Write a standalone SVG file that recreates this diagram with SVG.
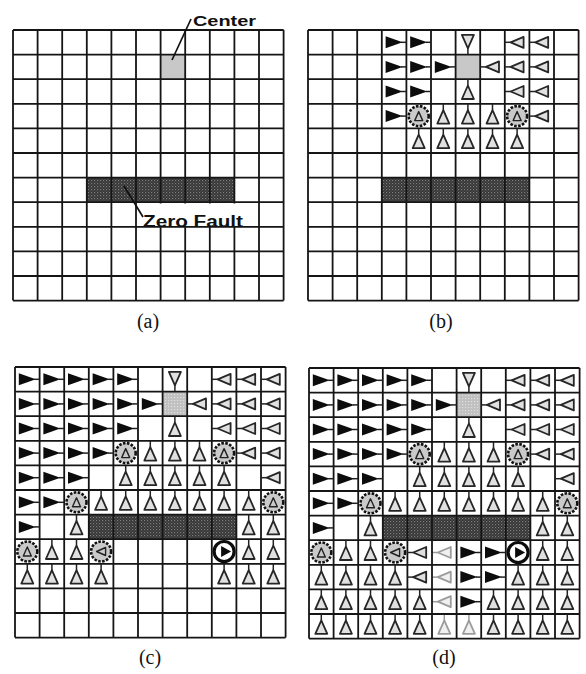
<svg xmlns="http://www.w3.org/2000/svg" width="586" height="674" viewBox="0 0 586 674">
<style>
.grid{fill:none;stroke:#151515;stroke-width:1.8}
.stem{fill:none;stroke:#222;stroke-width:1.5}
.o{fill:#e0e0e0;stroke:#262626;stroke-width:1.8;stroke-linejoin:round}
.o2{fill:none;stroke:#222;stroke-width:1.4;stroke-linejoin:round}
.ring{fill:#cacaca;stroke:#121212;stroke-width:2.6;stroke-dasharray:2.6 1.4}
.blk{fill:#0c0c0c}
.lt{opacity:0.45}
.cap{font-family:"Liberation Serif","Times New Roman",serif;font-size:20px;fill:#111;text-anchor:middle}
.lbl{font-family:"Liberation Sans",Arial,sans-serif;font-weight:bold;fill:#111}
.lead{fill:none;stroke:#111;stroke-width:1.7}
</style>
<defs>
<pattern id="pf" width="3" height="3" patternUnits="userSpaceOnUse">
<rect width="3" height="3" fill="#333"/><rect width="1.2" height="1.2" fill="#808080"/><rect x="1.5" y="1.5" width="1.2" height="1.2" fill="#5e5e5e"/>
</pattern>
<pattern id="pc" width="3" height="3" patternUnits="userSpaceOnUse">
<rect width="3" height="3" fill="#c0c0c0"/><rect width="1.2" height="1.2" fill="#e0e0e0"/>
</pattern>
<path id="gridlines" class="grid" d="M0 0V270.6M24.6 0V270.6M49.2 0V270.6M73.8 0V270.6M98.4 0V270.6M123 0V270.6M147.6 0V270.6M172.2 0V270.6M196.8 0V270.6M221.4 0V270.6M246 0V270.6M270.6 0V270.6M0 0H270.6M0 24.6H270.6M0 49.2H270.6M0 73.8H270.6M0 98.4H270.6M0 123H270.6M0 147.6H270.6M0 172.2H270.6M0 196.8H270.6M0 221.4H270.6M0 246H270.6M0 270.6H270.6"/>
<g id="R"><path class="stem" d="M7 0H12.3"/><path class="blk" d="M-8.5 -6L8.5 0L-8.5 6Z"/></g>
<g id="L"><path class="stem" d="M-6.5 0H-12.3"/><path class="o" d="M6.5 -5.5L-6.5 0L6.5 5.5Z"/></g>
<g id="U"><path class="stem" d="M0 -6V-12.3"/><path class="o" d="M-6 7.5L0 -6L6 7.5Z"/></g>
<g id="D"><path class="stem" d="M0 6V12.3"/><path class="o" d="M-6 -7.5L6 -7.5L0 6Z"/></g>
<g id="CU"><circle class="ring" r="10"/><path class="o2" d="M-4 4.5L0 -4.5L4 4.5Z"/></g>
<g id="CL"><circle class="ring" r="10"/><path class="o2" d="M4.5 -4L-4.5 0L4.5 4Z"/></g>
<g id="CR"><circle r="10" fill="#fff" stroke="#0c0c0c" stroke-width="3.2"/><path class="blk" d="M-3 -5.5L7 0L-3 5.5Z"/></g>
<g id="topRows">
<use href="#R" x="12.3" y="12.3"/><use href="#R" x="36.9" y="12.3"/><use href="#R" x="61.5" y="12.3"/><use href="#R" x="86.1" y="12.3"/><use href="#R" x="110.7" y="12.3"/>
<use href="#D" x="159.9" y="12.3"/>
<use href="#L" x="209.1" y="12.3"/><use href="#L" x="233.7" y="12.3"/><use href="#L" x="258.3" y="12.3"/>
<use href="#R" x="12.3" y="36.9"/><use href="#R" x="36.9" y="36.9"/><use href="#R" x="61.5" y="36.9"/><use href="#R" x="86.1" y="36.9"/><use href="#R" x="110.7" y="36.9"/><use href="#R" x="135.3" y="36.9"/>
<use href="#L" x="184.5" y="36.9"/><use href="#L" x="209.1" y="36.9"/><use href="#L" x="233.7" y="36.9"/><use href="#L" x="258.3" y="36.9"/>
<use href="#R" x="12.3" y="61.5"/><use href="#R" x="36.9" y="61.5"/><use href="#R" x="61.5" y="61.5"/><use href="#R" x="86.1" y="61.5"/><use href="#R" x="110.7" y="61.5"/>
<use href="#U" x="159.9" y="61.5"/>
<use href="#L" x="209.1" y="61.5"/><use href="#L" x="233.7" y="61.5"/><use href="#L" x="258.3" y="61.5"/>
<use href="#R" x="12.3" y="86.1"/><use href="#R" x="36.9" y="86.1"/><use href="#R" x="61.5" y="86.1"/><use href="#R" x="86.1" y="86.1"/>
<use href="#CU" x="110.7" y="86.1"/><use href="#U" x="135.3" y="86.1"/><use href="#U" x="159.9" y="86.1"/><use href="#U" x="184.5" y="86.1"/><use href="#CU" x="209.1" y="86.1"/>
<use href="#L" x="233.7" y="86.1"/><use href="#L" x="258.3" y="86.1"/>
<use href="#R" x="12.3" y="110.7"/><use href="#R" x="36.9" y="110.7"/><use href="#R" x="61.5" y="110.7"/>
<use href="#U" x="110.7" y="110.7"/><use href="#U" x="135.3" y="110.7"/><use href="#U" x="159.9" y="110.7"/><use href="#U" x="184.5" y="110.7"/><use href="#U" x="209.1" y="110.7"/>
<use href="#L" x="258.3" y="110.7"/>
<use href="#R" x="12.3" y="135.3"/><use href="#R" x="36.9" y="135.3"/><use href="#CU" x="61.5" y="135.3"/>
<use href="#U" x="86.1" y="135.3"/><use href="#U" x="110.7" y="135.3"/><use href="#U" x="135.3" y="135.3"/><use href="#U" x="159.9" y="135.3"/><use href="#U" x="184.5" y="135.3"/><use href="#U" x="209.1" y="135.3"/><use href="#U" x="233.7" y="135.3"/>
<use href="#CU" x="258.3" y="135.3"/>
<use href="#R" x="12.3" y="159.9"/><use href="#U" x="61.5" y="159.9"/><use href="#U" x="233.7" y="159.9"/><use href="#U" x="258.3" y="159.9"/>
</g>
</defs>
<rect width="586" height="674" fill="#fff"/>

<g id="panel-a" transform="translate(13,30)">
<rect x="147.6" y="24.6" width="24.6" height="24.6" fill="#c8c8c8"/>
<rect x="73.8" y="147.6" width="147.6" height="24.6" fill="url(#pf)"/>
<use href="#gridlines"/>
</g>

<g id="panel-b" transform="translate(308,30)">
<rect x="147.6" y="24.6" width="24.6" height="24.6" fill="#c8c8c8"/>
<rect x="73.8" y="147.6" width="147.6" height="24.6" fill="url(#pf)"/>
<use href="#gridlines"/>
<use href="#R" x="86.1" y="12.3"/><use href="#R" x="110.7" y="12.3"/>
<use href="#D" x="159.9" y="12.3"/>
<use href="#L" x="209.1" y="12.3"/><use href="#L" x="233.7" y="12.3"/>
<use href="#R" x="86.1" y="36.9"/><use href="#R" x="110.7" y="36.9"/><use href="#R" x="135.3" y="36.9"/>
<use href="#L" x="184.5" y="36.9"/><use href="#L" x="209.1" y="36.9"/><use href="#L" x="233.7" y="36.9"/>
<use href="#R" x="86.1" y="61.5"/><use href="#R" x="110.7" y="61.5"/>
<use href="#U" x="159.9" y="61.5"/>
<use href="#L" x="209.1" y="61.5"/><use href="#L" x="233.7" y="61.5"/>
<use href="#R" x="86.1" y="86.1"/><use href="#CU" x="110.7" y="86.1"/>
<use href="#U" x="135.3" y="86.1"/><use href="#U" x="159.9" y="86.1"/><use href="#U" x="184.5" y="86.1"/>
<use href="#CU" x="209.1" y="86.1"/><use href="#L" x="233.7" y="86.1"/>
<use href="#U" x="110.7" y="110.7"/><use href="#U" x="135.3" y="110.7"/><use href="#U" x="159.9" y="110.7"/><use href="#U" x="184.5" y="110.7"/><use href="#U" x="209.1" y="110.7"/>
</g>

<g id="panel-c" transform="translate(15,367)">
<rect x="147.6" y="24.6" width="24.6" height="24.6" fill="url(#pc)"/>
<rect x="73.8" y="147.6" width="147.6" height="24.6" fill="url(#pf)"/>
<use href="#gridlines"/>
<use href="#topRows"/>
<use href="#CU" x="12.3" y="184.5"/><use href="#U" x="36.9" y="184.5"/><use href="#U" x="61.5" y="184.5"/><use href="#CL" x="86.1" y="184.5"/>
<use href="#CR" x="209.1" y="184.5"/><use href="#U" x="233.7" y="184.5"/><use href="#U" x="258.3" y="184.5"/>
<use href="#U" x="12.3" y="209.1"/><use href="#U" x="36.9" y="209.1"/><use href="#U" x="61.5" y="209.1"/><use href="#U" x="86.1" y="209.1"/>
<use href="#U" x="209.1" y="209.1"/><use href="#U" x="233.7" y="209.1"/><use href="#U" x="258.3" y="209.1"/>
</g>

<g id="panel-d" transform="translate(309,368)">
<rect x="147.6" y="24.6" width="24.6" height="24.6" fill="url(#pc)"/>
<rect x="73.8" y="147.6" width="147.6" height="24.6" fill="url(#pf)"/>
<use href="#gridlines"/>
<use href="#topRows"/>
<use href="#CU" x="12.3" y="184.5"/><use href="#U" x="36.9" y="184.5"/><use href="#U" x="61.5" y="184.5"/><use href="#CL" x="86.1" y="184.5"/>
<use href="#L" x="110.7" y="184.5"/><use href="#L" class="lt" x="135.3" y="184.5"/><use href="#R" x="159.9" y="184.5"/><use href="#R" x="184.5" y="184.5"/>
<use href="#CR" x="209.1" y="184.5"/><use href="#U" x="233.7" y="184.5"/><use href="#U" x="258.3" y="184.5"/>
<use href="#U" x="12.3" y="209.1"/><use href="#U" x="36.9" y="209.1"/><use href="#U" x="61.5" y="209.1"/><use href="#U" x="86.1" y="209.1"/>
<use href="#L" x="110.7" y="209.1"/><use href="#L" class="lt" x="135.3" y="209.1"/><use href="#R" x="159.9" y="209.1"/><use href="#R" x="184.5" y="209.1"/>
<use href="#U" x="209.1" y="209.1"/><use href="#U" x="233.7" y="209.1"/><use href="#U" x="258.3" y="209.1"/>
<use href="#U" x="12.3" y="233.7"/><use href="#U" x="36.9" y="233.7"/><use href="#U" x="61.5" y="233.7"/><use href="#U" x="86.1" y="233.7"/><use href="#U" x="110.7" y="233.7"/>
<use href="#L" class="lt" x="135.3" y="233.7"/><use href="#R" x="159.9" y="233.7"/>
<use href="#U" x="184.5" y="233.7"/><use href="#U" x="209.1" y="233.7"/><use href="#U" x="233.7" y="233.7"/><use href="#U" x="258.3" y="233.7"/>
<use href="#U" x="12.3" y="258.3"/><use href="#U" x="36.9" y="258.3"/><use href="#U" x="61.5" y="258.3"/><use href="#U" x="86.1" y="258.3"/><use href="#U" x="110.7" y="258.3"/>
<use href="#U" class="lt" x="135.3" y="258.3"/><use href="#U" class="lt" x="159.9" y="258.3"/>
<use href="#U" x="184.5" y="258.3"/><use href="#U" x="209.1" y="258.3"/><use href="#U" x="233.7" y="258.3"/><use href="#U" x="258.3" y="258.3"/>
</g>

<g id="annotations">
<rect x="141" y="203.5" width="104" height="22.5" fill="#fff"/>
<text class="lbl" x="193" y="26" font-size="15.5" textLength="63" lengthAdjust="spacingAndGlyphs">Center</text>
<text class="lbl" x="143" y="227" font-size="16" textLength="100" lengthAdjust="spacingAndGlyphs">Zero Fault</text>
</g>

<g id="connectors">
<path class="lead" d="M191 19L172 60"/>
<path class="lead" d="M124 186L143 217"/>
</g>

<g id="captions">
<text class="cap" x="148" y="328">(a)</text>
<text class="cap" x="441" y="328">(b)</text>
<text class="cap" x="150" y="664">(c)</text>
<text class="cap" x="444" y="664">(d)</text>
</g>
</svg>
